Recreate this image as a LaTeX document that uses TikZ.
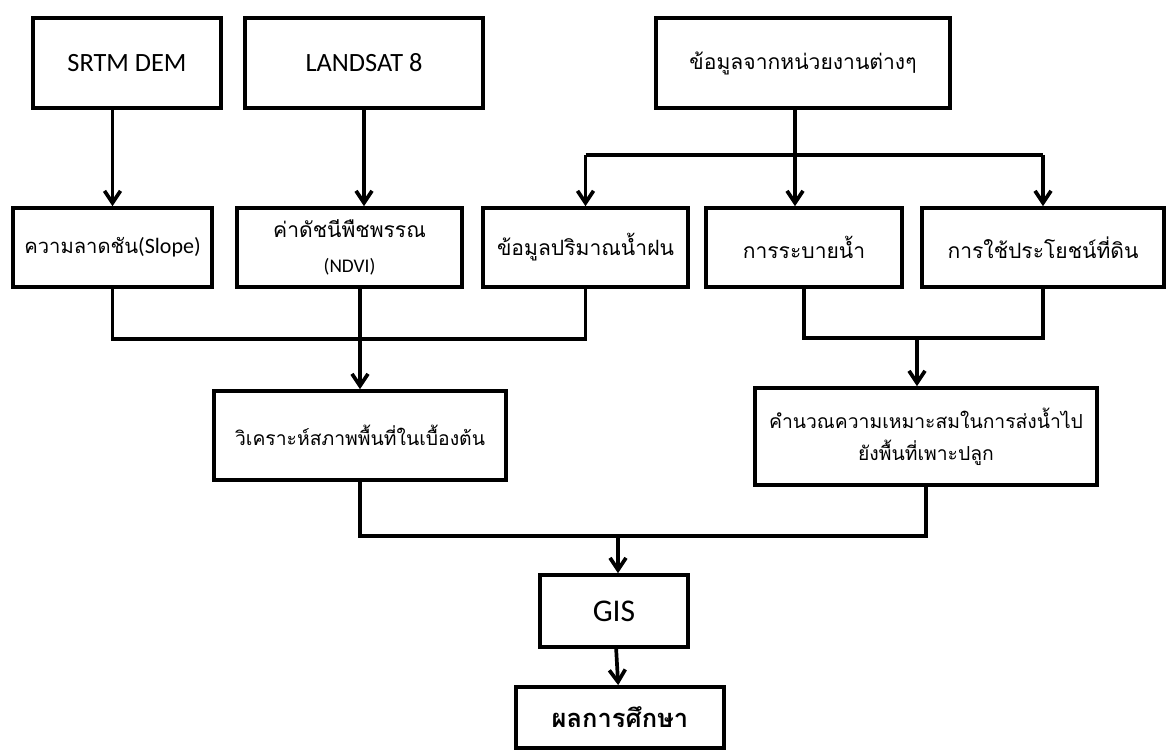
\documentclass[tikz,border=0pt]{standalone}
\usepackage{fontspec}
\setmainfont{Carlito}
\newfontfamily\thaifont[Script=Thai]{Loma}
\usepackage{tikz}
\usetikzlibrary{positioning,arrows.meta,calc}

\begin{document}
\begin{tikzpicture}[
      x=0.02cm, y=-0.02cm,
      >={Straight Barb[length=2.4mm,width=3.2mm]},
      flow/.style={line width=2.1pt, line join=miter},
      box/.style={rectangle, draw=black, line width=2.1pt, inner sep=1pt, align=center},
      sourcebox/.style={box, minimum height=1.8cm, font=\fontsize{15}{18}\selectfont},
      databox/.style={box, minimum height=1.58cm, font=\thaifont\fontsize{12}{19}\selectfont},
      stepbox/.style={box, font=\thaifont\fontsize{11}{18}\selectfont},
    ]
    \useasboundingbox (0,0) rectangle (1168,756);

    % Sources
    \node[sourcebox, minimum width=3.76cm] (srtm) at (127,63) {SRTM DEM};
    \node[sourcebox, minimum width=4.76cm] (landsat) at (364,63) {LANDSAT 8};
    \node[sourcebox, minimum width=5.88cm, font=\thaifont\fontsize{12}{18}\selectfont] (agency) at (803,63) {ข้อมูลจากหน่วยงานต่างๆ};

    % Input layers
    \node[databox, minimum width=3.98cm, font=\thaifont\fontsize{11.5}{19}\selectfont] (slope) at (112.5,247.5) {ความลาดชัน{\rmfamily\fontsize{12.5}{16}\selectfont(Slope)}};
    \node[databox, minimum width=4.5cm] (ndvi) at (349.5,247.5) {ค่าดัชนีพืชพรรณ\\[1pt]{\rmfamily\fontsize{11}{14}\selectfont(NDVI)}};
    \node[databox, minimum width=4.1cm] (rain) at (585.5,247.5) {ข้อมูลปริมาณน้ำฝน};
    \node[databox, minimum width=3.92cm] (drain) at (804,247.5) {การระบายน้ำ};
    \node[databox, minimum width=4.84cm] (landuse) at (1043,247.5) {การใช้ประโยชน์ที่ดิน};

    % Analysis
    \node[stepbox, minimum width=5.84cm, minimum height=1.78cm] (analysis) at (360,435.5) {วิเคราะห์สภาพพื้นที่ในเบื้องต้น};
    \node[stepbox, minimum width=6.84cm, minimum height=1.94cm] (suit) at (926,436.5) {คำนวณความเหมาะสมในการส่งน้ำไป\\ยังพื้นที่เพาะปลูก};

    % Output
    \node[box, minimum width=2.96cm, minimum height=1.44cm, font=\fontsize{18}{22}\selectfont] (gis) at (614,611) {GIS};
    \node[box, minimum width=4.16cm, minimum height=1.22cm, font=\thaifont\bfseries\fontsize{14.5}{18}\selectfont] (result) at (620,717.5) {ผลการศึกษา};

    % Junctions
    \coordinate (jt) at (795,155);
    \coordinate (jl) at (360,339);
    \coordinate (jr) at (917,338);
    \coordinate (jb) at (618,536);

    % Sources -> layers
    \draw[flow, ->] (srtm.south -| slope) -- (slope.north);
    \draw[flow, ->] (landsat.south) -- (landsat.south |- ndvi.north);
    \draw[flow] (agency.south -| jt) -- (jt);
    \draw[flow] (jt -| rain) -- (jt -| landuse);
    \draw[flow, ->] (jt -| rain) -- (rain.north);
    \draw[flow, ->] (jt) -- (jt |- drain.north);
    \draw[flow, ->] (jt -| landuse) -- (landuse.north);

    % Layers -> analysis
    \draw[flow] (slope.south) |- (jl) -| (rain.south);
    \draw[flow, ->] (ndvi.south -| analysis) -- (analysis.north);
    \draw[flow] (drain.south) |- (jr) -| (landuse.south);
    \draw[flow, ->] (jr) -- (jr |- suit.north);

    % Analysis -> GIS -> result
    \draw[flow] (analysis.south) |- (jb) -| (suit.south);
    \draw[flow, ->] (jb) -- (jb |- gis.north);
    \draw[flow, ->] (gis) -- (result);
  \end{tikzpicture}
\end{document}
